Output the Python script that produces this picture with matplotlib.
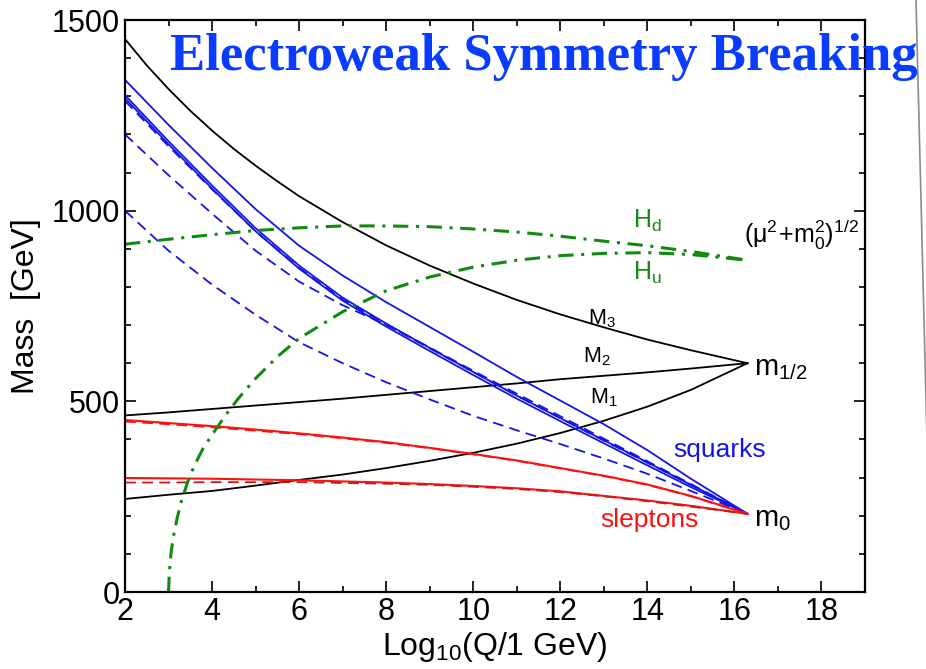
import matplotlib
matplotlib.use("Agg")
import matplotlib.pyplot as plt
from matplotlib.lines import Line2D

plt.rcParams['font.family'] = ['Liberation Sans', 'DejaVu Sans']
plt.rcParams['mathtext.fontset'] = 'custom'
plt.rcParams['mathtext.rm'] = 'Liberation Sans'
plt.rcParams['mathtext.it'] = 'Liberation Sans'
plt.rcParams['mathtext.bf'] = 'Liberation Sans:bold'

# ---- data (x = log10 Q, y = mass in GeV) ----
q_x = [2, 3, 4, 5, 6, 7, 8, 9, 10, 11, 12, 13, 14, 15, 16.3]

# gaugino masses
m3_x = [2, 2.5, 3, 3.5, 4, 4.5, 5, 5.5, 6, 7, 8, 9, 10, 11, 12, 13, 14, 15, 16.3]
m3 = [1450, 1381, 1319, 1262, 1210, 1162, 1118, 1077, 1038, 970, 909, 856, 809,
      766, 728, 694, 662, 634, 600]
m2 = [463, 471, 480, 489, 498, 507, 517, 527, 537, 547, 558, 567, 576, 586, 600]
m1 = [244, 255, 265, 279, 294, 308, 325, 344, 365, 389, 417, 449, 486, 530, 600]

# squarks
sq_L = [1343, 1225, 1112, 1004, 908, 830, 760, 695, 630, 564, 502, 440, 372, 297, 205]
sq_uR = [1303, 1182, 1066, 954, 856, 772, 704, 640, 577, 515, 456, 398, 340, 281, 205]
sq_dR = [1295, 1174, 1058, 946, 848, 764, 696, 632, 569, 507, 448, 390, 332, 275, 205]
sq_bR_dash = [1288, 1169, 1056, 946, 850, 767, 702, 639, 577, 515, 456, 397, 339, 281, 205]
sq_tL_dash = [1200, 1093, 992, 895, 814, 752, 701, 641, 580, 520, 461, 402, 343, 283, 205]
sq_tR_dash = [1000, 895, 806, 727, 655, 600, 550, 505, 462, 424, 388, 350, 310, 265, 205]

# sleptons
sl_L = [451, 443, 435, 426, 416, 405, 393, 378, 362, 345, 325, 305, 282, 252, 205]
sl_L_dash = [447, 440, 432, 423, 414, 403, 391, 377, 361, 344, 324, 304, 281, 251, 205]
sl_R = [299, 298, 297, 295, 293, 290, 287, 283, 278, 272, 264, 252, 240, 226, 205]
sl_R_dash = [287, 287, 288, 288, 288, 286, 284, 281, 276, 270, 262, 251, 238, 224, 205]

# Higgs parameters
hd_x = [2, 3, 4, 5, 6, 7, 8, 9, 10, 11, 12, 13, 14, 15, 16.3]
hd = [912, 925, 937, 948, 955, 960, 960, 958, 952, 944, 933, 920, 908, 893, 870]
hu_x = [3.0, 3.02, 3.06, 3.12, 3.2, 3.3, 3.45, 3.6, 3.8, 4.0, 4.3, 4.6, 5.0, 5.5,
        6, 7, 8, 9, 10, 11, 12, 13, 14, 15, 16.3]
hu = [0, 55, 105, 150, 195, 240, 292, 333, 378, 412, 462, 507, 560, 617,
      665, 735, 790, 826, 852, 870, 882, 888, 890, 885, 870]

BLUE = "#1414e6"
RED = "#ff1010"
DRED = "#c41a1a"
GREEN = "#128a12"
TITLE_BLUE = "#0a3cff"

fig = plt.figure(figsize=(9.26, 6.69), dpi=100)
ax = fig.add_axes([125/926, 77/669, 740/926, 572/669])

# black gauginos
ax.plot(m3_x, m3, color="black", lw=1.3)
ax.plot(q_x, m2, color="black", lw=1.3)
ax.plot(q_x, m1, color="black", lw=1.3)

# blue squarks
for ys in (sq_L, sq_uR, sq_dR):
    ax.plot(q_x, ys, color=BLUE, lw=1.3)
for ys in (sq_bR_dash, sq_tL_dash, sq_tR_dash):
    ax.plot(q_x, ys, color=BLUE, lw=1.3, dashes=(6, 3.5))

# red sleptons
ax.plot(q_x, sl_L, color=RED, lw=1.5)
ax.plot(q_x, sl_L_dash, color=RED, lw=1.3, dashes=(6, 3.5))
ax.plot(q_x, sl_R, color=RED, lw=1.5)
ax.plot(q_x, sl_R_dash, color=DRED, lw=1.3, dashes=(6, 3.5))

# green Higgs
ax.plot(hd_x, hd, color=GREEN, lw=2.2, dashes=(5, 2.5, 1, 2.5))
ax.plot(hu_x, hu, color=GREEN, lw=2.2, dashes=(5, 2.5, 1, 2.5))

# labels on the curves
ax.text(14.0, 972, r"$\mathregular{H_d}$", color=GREEN, fontsize=18, ha="center", va="center")
ax.text(14.0, 838, r"$\mathregular{H_u}$", color=GREEN, fontsize=18, ha="center", va="center")
ax.text(16.22, 937, r"$\mathregular{(μ^2\!+\!m_0^2)^{1/2}}$", fontsize=18, ha="left", va="center")
ax.text(12.95, 718, r"$\mathregular{M_3}$", fontsize=15.5, ha="center", va="center")
ax.text(12.85, 616, r"$\mathregular{M_2}$", fontsize=15.5, ha="center", va="center")
ax.text(13.0, 509, r"$\mathregular{M_1}$", fontsize=15.5, ha="center", va="center")
ax.text(16.45, 587, r"$\mathregular{m_{1/2}}$", fontsize=21, ha="left", va="center")
ax.text(16.45, 192, r"$\mathregular{m_0}$", fontsize=21, ha="left", va="center")
ax.text(15.67, 372, "squarks", color=BLUE, fontsize=19, ha="center", va="center")
ax.text(14.06, 190, "sleptons", color=RED, fontsize=19, ha="center", va="center")

ax.set_xlim(2, 19)
ax.set_ylim(0, 1500)
ax.set_xticks(range(2, 19, 2))
ax.set_xticks(range(2, 20), minor=True)
ax.set_yticks([0, 500, 1000, 1500])
ax.set_yticks(range(0, 1501, 100), minor=True)
ax.tick_params(which="both", direction="in", top=True, right=True, width=1.2)
ax.tick_params(which="major", length=8, labelsize=22)
ax.tick_params(which="minor", length=4.5)
for s in ax.spines.values():
    s.set_linewidth(1.6)

ax.set_xlabel(r"$\mathregular{Log_{10}(Q/1\ GeV)}$", fontsize=23, labelpad=2)
ax.set_ylabel("Mass  [GeV]", fontsize=23, labelpad=8)

fig.text(170/926, (669-70)/669, "Electroweak Symmetry Breaking", color=TITLE_BLUE,
         fontsize=38, fontweight="bold", family="Liberation Serif",
         ha="left", va="baseline")

# thin slide-edge line on the right
fig.add_artist(Line2D([916/926, 927/926], [1.0, 1 - 440/669], transform=fig.transFigure,
                      color="#8c8c8c", lw=1.2))

fig.savefig("out.png", dpi=100)
